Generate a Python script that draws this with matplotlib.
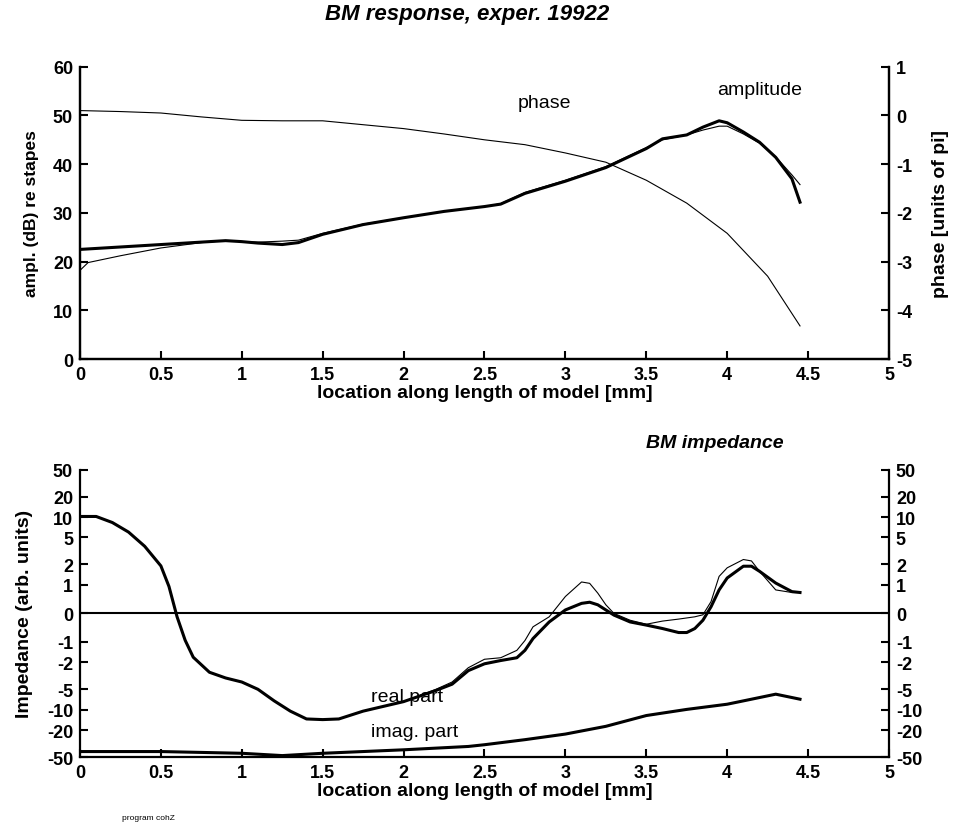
"""BM response and BM impedance along the model length (two panels)."""

import matplotlib
matplotlib.use("Agg")
import matplotlib.pyplot as plt

plt.rcParams["font.family"] = ["Liberation Sans", "DejaVu Sans"]
plt.rcParams["axes.unicode_minus"] = False

# --- top panel: amplitude (dB re stapes) and phase (units of pi) ---
amp_x = [0.0, 0.25, 0.5, 0.75, 0.9, 1.0, 1.1, 1.25, 1.35, 1.5, 1.75, 2.0, 2.25,
         2.5, 2.6, 2.75, 3.0, 3.25, 3.5, 3.6, 3.75, 3.85, 3.95, 4.0, 4.1, 4.2,
         4.3, 4.4, 4.45]
amp_thick = [22.5, 23.0, 23.5, 24.0, 24.3, 24.1, 23.8, 23.5, 23.9, 25.6, 27.6,
             29.0, 30.3, 31.3, 31.8, 34.0, 36.5, 39.3, 43.2, 45.2, 46.0, 47.6,
             48.9, 48.5, 46.6, 44.5, 41.4, 37.0, 32.2]
amp_x_thin = [0.0, 0.05, 0.25, 0.5, 0.75, 0.9, 1.0, 1.1, 1.25, 1.35, 1.5, 1.75,
              2.0, 2.25, 2.5, 2.6, 2.75, 3.0, 3.25, 3.5, 3.6, 3.75, 3.85, 3.95,
              4.0, 4.1, 4.2, 4.3, 4.4, 4.45]
amp_thin = [18.2, 19.8, 21.2, 22.8, 23.9, 24.3, 24.1, 24.0, 24.2, 24.4, 25.8,
            27.7, 29.0, 30.3, 31.3, 31.9, 34.2, 36.7, 39.5, 43.4, 45.0, 46.0,
            47.0, 47.8, 47.8, 46.2, 44.3, 41.5, 37.8, 35.8]
phase_x = [0.0, 0.25, 0.5, 0.75, 1.0, 1.25, 1.5, 1.75, 2.0, 2.25, 2.5, 2.75,
           3.0, 3.25, 3.5, 3.75, 4.0, 4.25, 4.45]
phase = [0.10, 0.08, 0.05, -0.03, -0.10, -0.11, -0.11, -0.19, -0.27, -0.38,
         -0.50, -0.60, -0.77, -0.96, -1.33, -1.80, -2.42, -3.30, -4.32]

# --- bottom panel: BM impedance (arb. units) ---
z_x = [0.0, 0.1, 0.2, 0.3, 0.4, 0.5, 0.55, 0.6, 0.65, 0.7, 0.8, 0.9, 1.0, 1.1,
       1.2, 1.3, 1.4, 1.5, 1.6, 1.75, 2.0, 2.2, 2.3, 2.4, 2.5, 2.6, 2.7, 2.75,
       2.8, 2.9, 3.0, 3.1, 3.15, 3.2, 3.25, 3.3, 3.4, 3.5, 3.6, 3.7, 3.75, 3.8,
       3.85, 3.9, 3.95, 4.0, 4.1, 4.15, 4.2, 4.3, 4.4, 4.45]
real_thick = [10.2, 10.2, 8.3, 6.0, 3.7, 1.9, 0.94, -0.12, -0.94, -1.68, -2.8,
              -3.4, -3.9, -5.0, -7.4, -10.5, -13.7, -14.0, -13.7, -10.5, -7.6,
              -5.2, -4.2, -2.65, -2.1, -1.88, -1.71, -1.33, -0.88, -0.30, 0.12,
              0.35, 0.39, 0.30, 0.12, -0.06, -0.30, -0.41, -0.53, -0.67, -0.67,
              -0.53, -0.24, 0.23, 0.82, 1.26, 1.88, 1.88, 1.58, 1.06, 0.76, 0.73]
real_thin = [10.2, 10.2, 8.3, 6.0, 3.7, 1.9, 0.94, -0.12, -0.94, -1.68, -2.8,
             -3.4, -3.9, -5.0, -7.4, -10.5, -13.7, -14.0, -13.7, -10.5, -7.6,
             -5.0, -3.9, -2.4, -1.8, -1.71, -1.33, -0.95, -0.47, -0.12, 0.59,
             1.10, 1.05, 0.71, 0.30, 0.0, -0.24, -0.38, -0.27, -0.20, -0.16,
             -0.12, -0.05, 0.41, 1.33, 1.78, 2.36, 2.25, 1.58, 0.82, 0.73, 0.73]
imag_x = [0.0, 0.5, 1.0, 1.25, 1.5, 2.0, 2.4, 2.5, 2.75, 3.0, 3.25, 3.5, 3.75,
          4.0, 4.15, 4.3, 4.45]
imag = [-41.5, -41.5, -44.0, -47.6, -44.0, -39.1, -34.9, -32.9, -27.7, -22.9,
        -17.6, -12.2, -9.9, -8.3, -7.0, -5.9, -7.0]

x_ticks = [0, 0.5, 1, 1.5, 2, 2.5, 3, 3.5, 4, 4.5, 5]
x_ticklabels = ["0", "0.5", "1", "1.5", "2", "2.5", "3", "3.5", "4", "4.5", "5"]
z_ticks = [50, 20, 10, 5, 2, 1, 0, -1, -2, -5, -10, -20, -50]

TICK_FONT = 13
XLABEL_FONT = 14


def style_axes(ax):
    ax.spines["top"].set_visible(False)
    for side in ("left", "right", "bottom"):
        ax.spines[side].set_linewidth(1.6)
    ax.tick_params(direction="in", length=6, width=1.5, labelsize=TICK_FONT, pad=5)
    for lab in ax.get_xticklabels() + ax.get_yticklabels():
        lab.set_fontweight("bold")


fig = plt.figure(figsize=(9.59, 8.29), dpi=100)

# top panel
ax1 = fig.add_axes([0.0834, 0.5657, 0.8436, 0.3526])
ax1.plot(amp_x_thin, amp_thin, color="black", lw=0.8)
ax1.plot(amp_x, amp_thick, color="black", lw=2.2)
ax1.set_xlim(0, 5)
ax1.set_ylim(0, 60)
ax1.set_xticks(x_ticks, x_ticklabels)
ax1.set_yticks(range(0, 61, 10))
ax1.set_xlabel("location along length of model [mm]", fontsize=XLABEL_FONT,
               fontweight="bold", labelpad=1)
ax1.set_ylabel("ampl. (dB) re stapes", fontsize=12.5, fontweight="bold",
               labelpad=10)
style_axes(ax1)

ax1b = ax1.twinx()
ax1b.plot(phase_x, phase, color="black", lw=0.8)
ax1b.set_ylim(-5, 1)
ax1b.set_yticks(range(-5, 2))
ax1b.set_ylabel("phase [units of pi]", fontsize=14, fontweight="bold",
                labelpad=14)
style_axes(ax1b)

ax1.text(2.87, 52.7, "phase", fontsize=14, ha="center", va="center")
ax1.text(4.2, 55.3, "amplitude", fontsize=14, ha="center", va="center")

# bottom panel
ax2 = fig.add_axes([0.0834, 0.0856, 0.8436, 0.3466])
ax2.set_yscale("symlog", linthresh=1, linscale=0.38)
ax2.axhline(0, color="black", lw=1.5)
ax2.plot(z_x, real_thin, color="black", lw=0.8)
ax2.plot(z_x, real_thick, color="black", lw=2.2)
ax2.plot(imag_x, imag, color="black", lw=2.2)
ax2.set_xlim(0, 5)
ax2.set_ylim(-50, 50)
ax2.set_xticks(x_ticks, x_ticklabels)
ax2.set_yticks(z_ticks, [str(t) for t in z_ticks])
ax2.yaxis.set_minor_locator(matplotlib.ticker.NullLocator())
ax2.tick_params(axis="y", right=True, labelright=True)
ax2.spines["right"].set_visible(True)
ax2.set_xlabel("location along length of model [mm]", fontsize=XLABEL_FONT,
               fontweight="bold", labelpad=1)
ax2.set_ylabel("Impedance (arb. units)", fontsize=14, fontweight="bold",
               labelpad=10)
style_axes(ax2)

ax2.text(1.8, -6.4, "real part", fontsize=14, ha="left", va="center")
ax2.text(1.8, -21.0, "imag. part", fontsize=14, ha="left", va="center")
ax2.set_title("BM impedance", fontsize=14, fontweight="bold", style="italic",
              x=0.785, pad=16)

fig.text(0.487, 0.983, "BM response, exper. 19922", fontsize=16,
         fontweight="bold", style="italic", ha="center", va="center")
fig.text(0.127, 0.008, "program cohZ", fontsize=6, ha="left", va="bottom")

fig.savefig("out.png", dpi=100)
